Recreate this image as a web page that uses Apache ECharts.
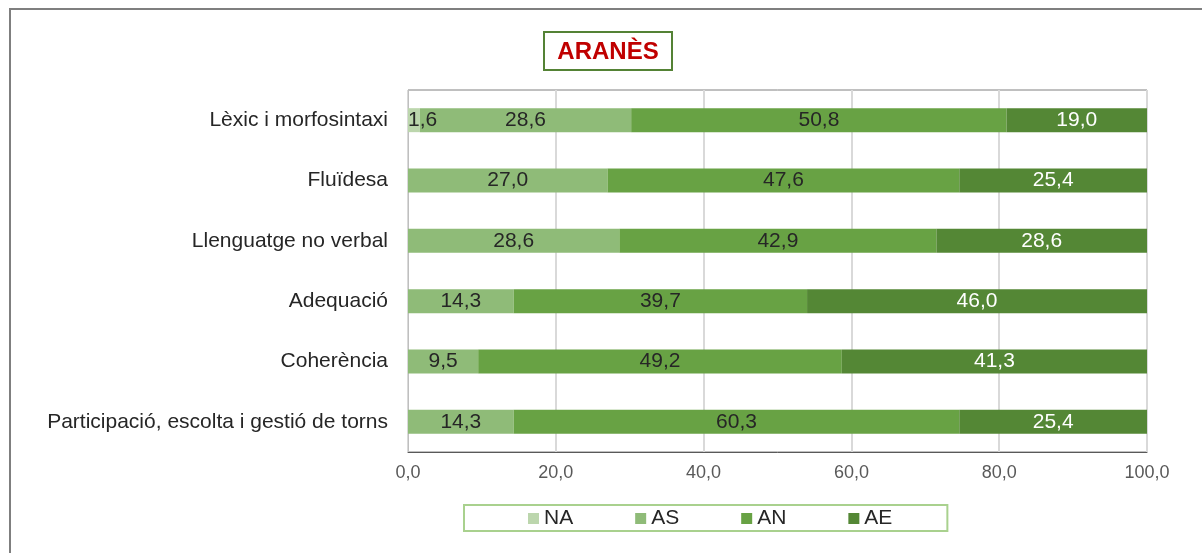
<!DOCTYPE html>
<html>
<head>
<meta charset="utf-8">
<script src="https://cdn.jsdelivr.net/npm/echarts@6/dist/echarts.min.js"></script>
<style>
html,body{margin:0;padding:0;background:#fff;}
#chart{width:1202px;height:553px;}
</style>
</head>
<body>
<div id="chart"></div>
<script>
const categories = [
  'Lèxic i morfosintaxi',
  'Fluïdesa',
  'Llenguatge no verbal',
  'Adequació',
  'Coherència',
  'Participació, escolta i gestió de torns'
];
const seriesNames = ['NA', 'AS', 'AN', 'AE'];
const valuesNA = [1.6, 0, 0, 0, 0, 0];
const valuesAS = [28.6, 27.0, 28.6, 14.3, 9.5, 14.3];
const valuesAN = [50.8, 47.6, 42.9, 39.7, 49.2, 60.3];
const valuesAE = [19.0, 25.4, 28.6, 46.0, 41.3, 25.4];
const xTicks = [0, 20, 40, 60, 80, 100];
const titleText = 'ARANÈS';

const colors = ['#bcd6ad', '#8fbb78', '#68a244', '#548735'];
const labelColors = ['#262626', '#262626', '#262626', '#ffffff'];
const allValues = [valuesNA, valuesAS, valuesAN, valuesAE];
const FONT = '"Liberation Sans", Arial, sans-serif';
const fmt = v => v.toFixed(1).replace('.', ',');

const chart = echarts.init(document.getElementById('chart'));
const series = seriesNames.map((name, i) => ({
  name: name,
  type: 'bar',
  stack: 'total',
  barWidth: 24,
  data: allValues[i],
  itemStyle: { color: colors[i] },
  label: {
    show: true,
    position: i === 0 ? 'insideLeft' : 'inside',
    distance: 0,
    color: labelColors[i],
    fontFamily: FONT,
    fontSize: 21,
    formatter: p => (p.value ? fmt(p.value) : '')
  },
  emphasis: { disabled: true }
}));

chart.setOption({
  animation: false,
  backgroundColor: '#ffffff',
  textStyle: { fontFamily: FONT },
  grid: {
    left: 408, right: 55, top: 90, bottom: 101,
    show: true, borderColor: '#808080', borderWidth: 1
  },
  xAxis: {
    type: 'value',
    min: xTicks[0], max: xTicks[xTicks.length - 1], interval: xTicks[1] - xTicks[0],
    axisLine: { show: true, lineStyle: { color: '#595959', width: 1 } },
    axisTick: { show: false },
    splitLine: { show: true, lineStyle: { color: '#d9d9d9', width: 2 } },
    axisLabel: {
      color: '#595959', fontSize: 18, fontFamily: FONT, margin: 12,
      formatter: v => fmt(v)
    }
  },
  yAxis: {
    type: 'category',
    data: categories,
    inverse: true,
    axisLine: { show: true, lineStyle: { color: '#bfbfbf' } },
    axisTick: { show: false },
    axisLabel: { color: '#262626', fontSize: 21, fontFamily: FONT, margin: 20 }
  },
  legend: {
    data: seriesNames,
    left: 464, top: 505,
    padding: [3, 55, 2, 64],
    itemGap: 62,
    itemWidth: 11, itemHeight: 11,
    icon: 'rect',
    borderColor: '#a9d18e', borderWidth: 2,
    textStyle: { color: '#262626', fontSize: 21, fontFamily: FONT }
  },
  graphic: [
    {
      type: 'rect', silent: true,
      shape: { x: 10, y: 9, width: 1300, height: 700 },
      style: { fill: null, stroke: '#7f7f7f', lineWidth: 2 }
    },
    {
      type: 'rect', silent: true,
      shape: { x: 544, y: 32, width: 128, height: 38 },
      style: { fill: '#ffffff', stroke: '#548235', lineWidth: 2 }
    },
    {
      type: 'text', silent: true,
      x: 608, y: 52,
      style: {
        text: titleText, fill: '#c00000',
        font: 'bold 24px "Liberation Sans", Arial, sans-serif',
        align: 'center', verticalAlign: 'middle'
      }
    }
  ],
  series: series
});
</script>
</body>
</html>
